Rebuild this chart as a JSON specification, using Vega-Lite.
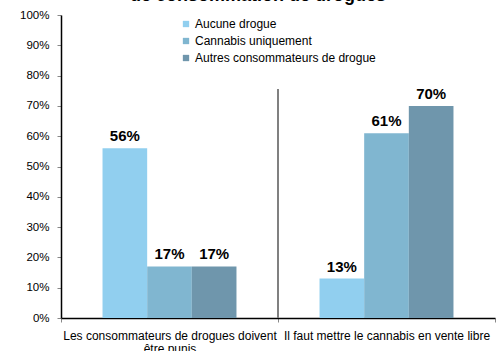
{
  "$schema": "https://vega.github.io/schema/vega-lite/v6.json",
  "autosize": "none",
  "width": 434,
  "height": 303,
  "padding": {"left": 61, "top": 15, "right": 7, "bottom": 33},
  "background": "white",
  "title": {
    "text": "de consommation de drogues",
    "font": "Liberation Sans",
    "fontSize": 18,
    "fontWeight": "bold",
    "color": "black",
    "anchor": "middle",
    "baseline": "alphabetic",
    "offset": 0,
    "dy": 10,
    "dx": -20
  },
  "config": {
    "view": {"stroke": null},
    "font": "Liberation Sans",
    "axis": {"labelFont": "Liberation Sans", "labelColor": "black", "grid": false}
  },
  "data": {
    "values": [
      {"question": "Les consommateurs de drogues doivent être punis", "serie": "Aucune drogue", "valeur": 0.56},
      {"question": "Les consommateurs de drogues doivent être punis", "serie": "Cannabis uniquement", "valeur": 0.17},
      {"question": "Les consommateurs de drogues doivent être punis", "serie": "Autres consommateurs de drogue", "valeur": 0.17},
      {"question": "Il faut mettre le cannabis en vente libre", "serie": "Aucune drogue", "valeur": 0.13},
      {"question": "Il faut mettre le cannabis en vente libre", "serie": "Cannabis uniquement", "valeur": 0.61},
      {"question": "Il faut mettre le cannabis en vente libre", "serie": "Autres consommateurs de drogue", "valeur": 0.70}
    ]
  },
  "encoding": {
    "x": {
      "field": "question",
      "type": "nominal",
      "sort": null,
      "scale": {"paddingInner": 0, "paddingOuter": 0},
      "axis": {
        "title": null,
        "labelAngle": 0,
        "labelFontSize": 12,
        "labelLimit": 400,
        "labelPadding": 8,
        "labelLineHeight": 13,
        "tickBand": "extent",
        "tickSize": 4,
        "tickColor": "#888888",
        "domainColor": "black",
        "domainWidth": 1.5,
        "labelExpr": "datum.value == 'Les consommateurs de drogues doivent être punis' ? ['Les consommateurs de drogues doivent', 'être punis'] : datum.value"
      }
    },
    "y": {
      "field": "valeur",
      "type": "quantitative",
      "scale": {"domain": [0, 1]},
      "axis": {
        "title": null,
        "values": [0, 0.1, 0.2, 0.3, 0.4, 0.5, 0.6, 0.7, 0.8, 0.9, 1],
        "tickCount": 20,
        "format": ".0%",
        "labelFontSize": 11.5,
        "labelOverlap": false,
        "labelPadding": 8,
        "tickSize": 4,
        "tickColor": "#888888",
        "domainColor": "black",
        "domainWidth": 1.5
      }
    }
  },
  "layer": [
    {
      "mark": {"type": "bar"},
      "encoding": {
        "xOffset": {
          "field": "serie",
          "type": "nominal",
          "sort": ["Aucune drogue", "Cannabis uniquement", "Autres consommateurs de drogue"],
          "scale": {"paddingInner": 0, "paddingOuter": 0.93}
        },
        "color": {
          "field": "serie",
          "type": "nominal",
          "sort": ["Aucune drogue", "Cannabis uniquement", "Autres consommateurs de drogue"],
          "scale": {"range": ["#91CFEF", "#80B6D0", "#6F96AC"]},
          "legend": {
            "title": null,
            "orient": "none",
            "legendX": 119,
            "legendY": 3,
            "padding": 0,
            "symbolType": "square",
            "symbolSize": 40,
            "symbolStrokeWidth": 0,
            "labelFontSize": 12,
            "labelFont": "Liberation Sans",
            "labelColor": "black",
            "labelLimit": 400,
            "labelOffset": 3,
            "rowPadding": 5
          }
        }
      }
    },
    {
      "mark": {"type": "text", "font": "Liberation Sans", "fontSize": 15, "fontWeight": "bold", "baseline": "alphabetic", "dy": -7, "color": "black"},
      "encoding": {
        "xOffset": {
          "field": "serie",
          "type": "nominal",
          "sort": ["Aucune drogue", "Cannabis uniquement", "Autres consommateurs de drogue"]
        },
        "text": {"field": "valeur", "type": "quantitative", "format": ".0%"}
      }
    },
    {
      "mark": {"type": "rule", "color": "#808080", "strokeWidth": 1.5},
      "encoding": {
        "x": {"datum": "Il faut mettre le cannabis en vente libre", "bandPosition": 0},
        "y": {"datum": 0},
        "y2": {"datum": 0.755}
      }
    }
  ]
}
